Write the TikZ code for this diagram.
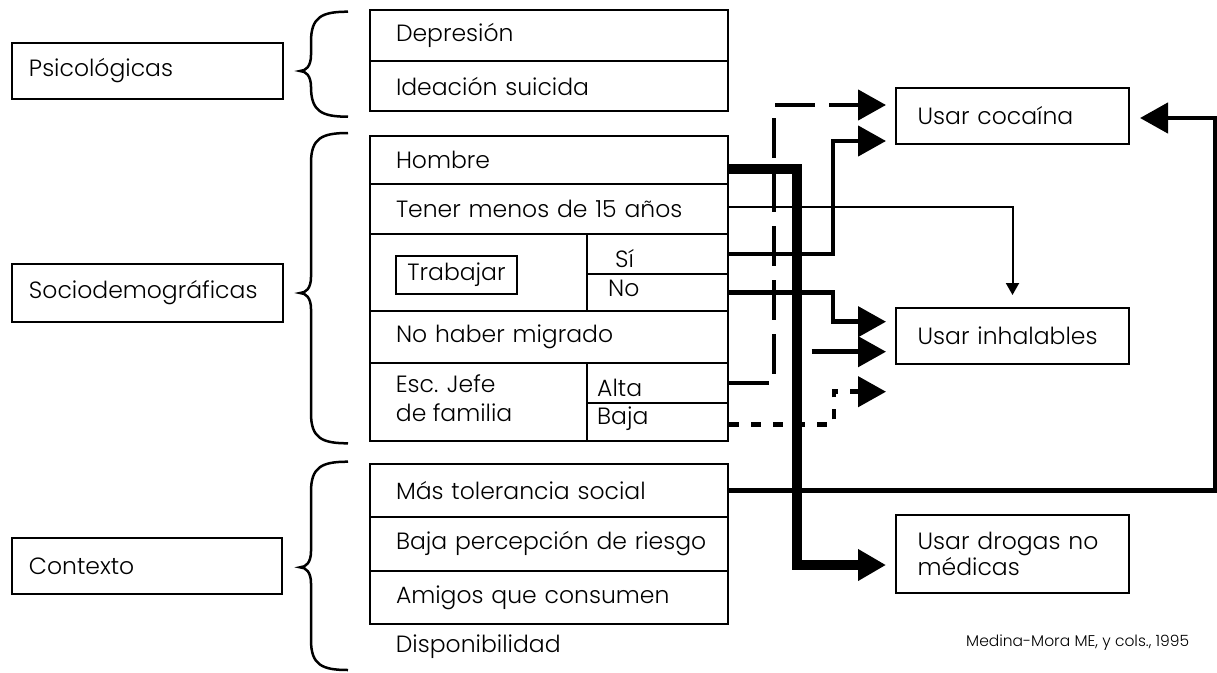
\documentclass[tikz,border=0pt]{standalone}
\usepackage{fontspec}
\setmainfont{Poppins}[UprightFont=* Light]
\usetikzlibrary{arrows.meta}
\newcommand\fs{\fontsize{23.5}{28}\selectfont}
\newcommand\fsm{\fontsize{15.5}{18}\selectfont}
\newcommand\mybrace[3]{\draw[bracestyle] (348,#1) .. controls (322,#1) and (311,#1+5) .. (311,#1+30) -- (311,#2-16) .. controls (311,#2-5) and (306,#2) .. (300,#2) .. controls (306,#2) and (311,#2+5) .. (311,#2+16) -- (311,#3-30) .. controls (311,#3-5) and (322,#3) .. (348,#3);}
\begin{document}
\begin{tikzpicture}[x=1pt,y=-1pt,
  cell/.style={draw,line width=2pt,inner sep=0pt,align=left,font=\fs,anchor=north west},
  lbl/.style={font=\fs,inner sep=0pt,anchor=west},
  conn/.style={line width=4.5pt},
  heavy/.style={line width=10pt},
  thinconn/.style={line width=2pt},
  bigtip/.style={-{Triangle[length=28pt,width=30pt]}},
  smalltip/.style={-{Triangle[length=12pt,width=13pt]}},
  dashpat/.style={dash pattern=on 40pt off 14pt},
  dotpat/.style={dash pattern=on 10pt off 12pt},
  bracestyle/.style={line width=2.5pt}
]
\useasboundingbox (0,0) rectangle (1217,672);
% left category boxes
\node[cell,text width=271pt,minimum height=56.6pt] (psi) at (11,41.7) {\hspace*{17pt}Psicológicas};
\node[cell,text width=271pt,minimum height=58pt] (soc) at (11,263) {\hspace*{17pt}Sociodemográficas};
\node[cell,text width=270pt,minimum height=56pt] (con) at (11,537) {\hspace*{17pt}Contexto};
% braces
\mybrace{11.7}{71}{116.7}
\mybrace{133}{293}{443.3}
\mybrace{461.7}{567.3}{670}
% psychological
\node[cell,text width=358pt,minimum height=51pt] (dep) at (369,9) {\hspace*{26pt}Depresión};
\node[cell,text width=358pt,minimum height=50pt] (ide) at (369,60) {\hspace*{26pt}Ideación suicida};
% sociodemographic
\node[cell,text width=358pt,minimum height=48pt] (hom) at (369,135) {\hspace*{26pt}Hombre};
\node[cell,text width=358pt,minimum height=50pt] (ten) at (369,183) {\hspace*{26pt}Tener menos de 15 años};
\node[cell,text width=217pt,minimum height=77pt] (trl) at (369,233) {};
\node[draw,line width=2pt,minimum width=121pt,minimum height=38pt,inner sep=0pt,font=\fs] (trab) at (456.5,275) {Trabajar};
\node[cell,text width=141pt,minimum height=39.7pt] (si) at (586,233) {};
\node[cell,text width=141pt,minimum height=37.3pt] (no) at (586,272.7) {};
\node[lbl,anchor=base west] (siT) at (615,267) {Sí};
\node[lbl,anchor=base west] (noT) at (608,296) {No};
\node[cell,text width=358pt,minimum height=52pt] (nhm) at (369,310) {\hspace*{26pt}No haber migrado};
\node[cell,text width=217pt,minimum height=78pt] (esc) at (369,362) {};
\node[lbl,align=left,font=\fontsize{23.5}{28.7}\selectfont] (escT) at (395.7,398) {Esc. Jefe\\de familia};
\node[cell,text width=141pt,minimum height=39.7pt] (alt) at (586,362) {};
\node[cell,text width=141pt,minimum height=38.3pt] (baj) at (586,401.7) {};
\node[lbl,anchor=base west] (altT) at (597,396) {Alta};
\node[lbl,anchor=base west] (bajT) at (597,424) {Baja};
% context
\node[cell,text width=358pt,minimum height=52.7pt] (mas) at (369,463.3) {\hspace*{26pt}Más tolerancia social};
\node[cell,text width=358pt,minimum height=54pt] (bpr) at (369,516) {\hspace*{26pt}Baja percepción de riesgo};
\node[cell,text width=358pt,minimum height=52.7pt] (ami) at (369,570) {\hspace*{26pt}Amigos que consumen};
\node[lbl] (dis) at (395.7,647) {Disponibilidad};
% outcomes
\node[cell,text width=233pt,minimum height=56pt] (coc) at (895,86.7) {\hspace*{21.7pt}Usar cocaína};
\node[cell,text width=233pt,minimum height=56pt] (inh) at (895,306.7) {\hspace*{21.7pt}Usar inhalables};
\node[cell,text width=233pt,minimum height=77.7pt,font=\fontsize{23.5}{26.6}\selectfont] (dro) at (895,514) {\hspace*{21.7pt}Usar drogas no\\\hspace*{21.7pt}médicas};
\node[font=\fsm,inner sep=0pt,anchor=west] (ref) at (966,643) {Medina-Mora ME, y cols., 1995};
% connectors
\draw[thinconn,smalltip,shorten >=11.7pt] ([yshift=2pt]ten.east) -| (inh.north);
\draw[conn,dashpat,bigtip,shorten >=9pt] (alt.east) -| (774,105) -- (coc.west |- 0,105);
\draw[conn,bigtip,shorten >=9pt] (si.east) -| (833,141) -- (coc.west |- 0,141);
\draw[conn,bigtip,shorten >=9pt] (no.east) -| (833,321.7) -- (inh.west |- 0,321.7);
\coordinate (sl) at (811.7,351.7);
\draw[conn,bigtip,shorten >=9pt] (sl) -- (inh.west |- sl);
\draw[conn,dotpat,bigtip,shorten >=9pt] ([yshift=-2.5pt]baj.east) -| (834,391.7) -- (inh.west |- 0,391.7);
\draw[heavy,bigtip,shorten >=9pt] ([yshift=-9pt]hom.east) -| (797,565) -- (dro.west |- 0,565);
\draw[conn,bigtip,shorten >=10pt] (mas.east) -| (1215,118) -- (coc.east |- 0,118);
\end{tikzpicture}
\end{document}
